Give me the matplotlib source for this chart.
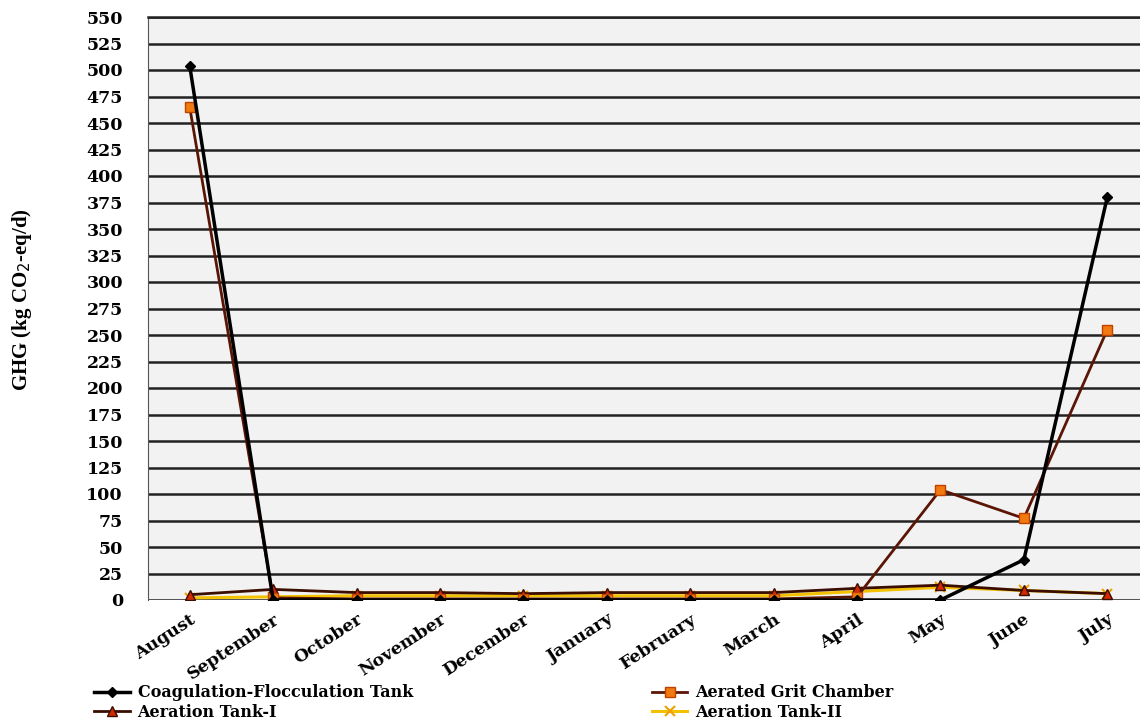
import matplotlib
matplotlib.use("Agg")
import matplotlib.pyplot as plt
import numpy as np

months = ["August", "September", "October", "November", "December", "January",
          "February", "March", "April", "May", "June", "July"]

coag_floc = [504, 0, 0, 0, 0, 0, 0, 0, 0, 0, 38, 380]
grit_chamber = [465, 2, 1, 1, 1, 1, 1, 1, 3, 104, 77, 255]
aeration_1 = [5, 10, 7, 7, 6, 7, 7, 7, 11, 14, 9, 6]
aeration_2 = [2, 3, 4, 4, 4, 4, 4, 4, 8, 12, 9, 6]

yticks = list(range(0, 551, 25))

fig = plt.figure(figsize=(11.4, 7.27), dpi=100)
ax = fig.add_axes([148 / 1140, 127 / 727, 1001 / 1140, 583 / 727])
ax.set_facecolor("#f2f2f2")

x = np.arange(len(months))
l4, = ax.plot(x, aeration_2, color="#f2c200", lw=2.2, marker="x", ms=7, mew=1.5,
              mec="#f0a000", label="Aeration Tank-II", zorder=3)
l3, = ax.plot(x, aeration_1, color="#3a0d00", lw=2, marker="^", ms=7,
              mfc="#d42a00", mec="#3a0d00", label="Aeration Tank-I", zorder=4)
l2, = ax.plot(x, grit_chamber, color="#5a1505", lw=2, marker="s", ms=7,
              mfc="#f07a10", mec="#c04000", label="Aerated Grit Chamber", zorder=5)
l1, = ax.plot(x, coag_floc, color="black", lw=2.5, marker="D", ms=5,
              mfc="black", label="Coagulation-Flocculation Tank", zorder=6)

ax.set_xlim(-0.5, len(months) - 0.5)
ax.set_ylim(0, 550)
ax.set_yticks(yticks)
ax.yaxis.grid(True, color="#222222", lw=1.8)
ax.set_axisbelow(True)
ax.tick_params(axis="y", length=0, pad=18)
ax.tick_params(axis="x", length=0, pad=8)
for s in ["right", "bottom"]:
    ax.spines[s].set_visible(False)
ax.spines["left"].set_color("#555555")
ax.spines["top"].set_color("#222222")
ax.spines["top"].set_linewidth(1.8)

ax.set_xticks(x)
ax.set_xticklabels(months, rotation=33, ha="right", va="top",
                   rotation_mode="anchor", family="DejaVu Serif",
                   fontweight="bold", fontsize=12.5)
for lab in ax.get_yticklabels():
    lab.set_family("DejaVu Serif")
    lab.set_fontweight("bold")
    lab.set_fontsize(12.5)

fig.text(22 / 1140, 1 - 300 / 727, "GHG (kg CO$_2$-eq/d)", rotation=90,
         ha="center", va="center", family="Liberation Serif",
         fontweight="bold", fontsize=15)

handles = [l1, l3, l2, l4]
fig.legend(handles, [h.get_label() for h in handles], ncol=2,
           loc="upper left", bbox_to_anchor=(88 / 1140, 1 - 678 / 727),
           frameon=False, handlelength=2.2, handletextpad=0.5,
           columnspacing=15, labelspacing=0.15, borderaxespad=0,
           prop={"family": "DejaVu Serif", "weight": "bold", "size": 11.5})

fig.savefig("out.png", dpi=100)
